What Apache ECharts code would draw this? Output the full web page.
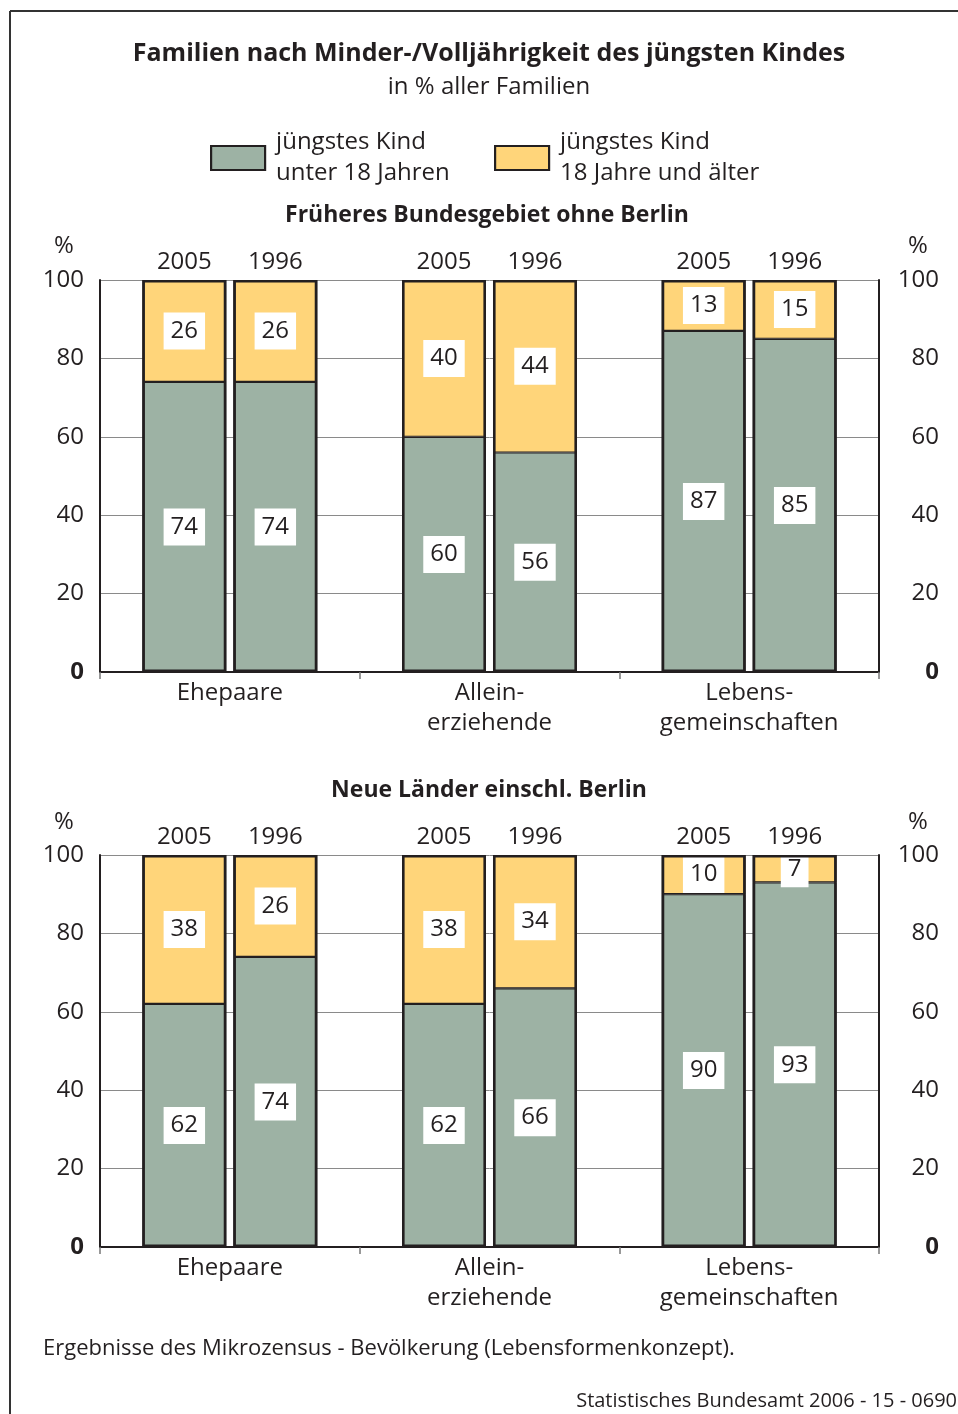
<!DOCTYPE html>
<html>
<head>
<meta charset="utf-8">
<script src="https://cdn.jsdelivr.net/npm/echarts@6/dist/echarts.min.js"></script>
<style>
html,body{margin:0;padding:0;background:#fff;}
#chart{width:958px;height:1414px;}
</style>
</head>
<body>
<div id="chart"></div>
<script>
// ---- data ----
const categories = ['Ehepaare', 'Allein-\nerziehende', 'Lebens-\ngemeinschaften'];
const years = ['2005', '1996'];
const yTicks = [0, 20, 40, 60, 80, 100];
const seriesNames = ['jüngstes Kind\nunter 18 Jahren', 'jüngstes Kind\n18 Jahre und älter'];

const west2005Under18 = [74, 60, 87];
const west2005Over18  = [26, 40, 13];
const west1996Under18 = [74, 56, 85];
const west1996Over18  = [26, 44, 15];

const east2005Under18 = [62, 62, 90];
const east2005Over18  = [38, 38, 10];
const east1996Under18 = [74, 66, 93];
const east1996Over18  = [26, 34, 7];

const mainTitle = 'Familien nach Minder-/Volljährigkeit des jüngsten Kindes';
const subTitle = 'in % aller Familien';
const panelTitles = ['Früheres Bundesgebiet ohne Berlin', 'Neue Länder einschl. Berlin'];
const footnote = 'Ergebnisse des Mikrozensus - Bevölkerung (Lebensformenkonzept).';
const source = 'Statistisches Bundesamt 2006 - 15 - 0690';

// ---- style ----
const FONT = '"Open Sans"';
const INK = '#231f20';
const GREEN = '#9db2a4';
const YELLOW = '#ffd57a';
const FS = 24;

const chart = echarts.init(document.getElementById('chart'), null, {renderer: 'canvas'});

function barSeries(name, stack, data, ai, color) {
  return {
    type: 'bar', name, stack, data,
    xAxisIndex: ai * 3, yAxisIndex: ai * 2,
    barWidth: 84, barGap: '8.33%',
    itemStyle: {color, borderColor: INK, borderWidth: 1.1},
    label: {
      show: true, position: 'inside', color: INK, fontSize: FS, fontFamily: FONT,
      backgroundColor: '#fff', padding: [6, 7, 5, 7], lineHeight: 26
    },
    emphasis: {disabled: true},
    silent: true
  };
}
function yearSeries(year, stack, ai) {
  return {
    type: 'bar', name: year, stack, data: categories.map(() => 0),
    xAxisIndex: ai * 3, yAxisIndex: ai * 2,
    barWidth: 84, barGap: '8.33%',
    itemStyle: {color: 'transparent', borderWidth: 0},
    label: {show: true, position: 'top', distance: 6, formatter: year,
            fontSize: FS, fontFamily: FONT, color: INK},
    emphasis: {disabled: true},
    silent: true
  };
}
// outline of the whole stacked column (sum of both segments), on an overlaid hidden axis
function outlineSeries(stack, a, b, ai) {
  return {
    type: 'bar', name: 'outline', stack, data: a.map((v, i) => v + b[i]),
    xAxisIndex: ai * 3 + 2, yAxisIndex: ai * 2, z: 3,
    barWidth: 84, barGap: '8.33%',
    itemStyle: {color: 'transparent', borderColor: INK, borderWidth: 2.6},
    label: {show: false},
    emphasis: {disabled: true},
    silent: true
  };
}

const panels = [
  [[west2005Under18, west2005Over18], [west1996Under18, west1996Over18]],
  [[east2005Under18, east2005Over18], [east1996Under18, east1996Over18]]
];

const series = [];
panels.forEach((panel, ai) => {
  panel.forEach((pair, yi) => {
    const stack = 'p' + ai + 'y' + yi;
    series.push(barSeries(seriesNames[0], stack, pair[0], ai, GREEN));
    series.push(barSeries(seriesNames[1], stack, pair[1], ai, YELLOW));
    series.push(yearSeries(years[yi], stack, ai));
  });
  panel.forEach((pair, yi) => {
    series.push(outlineSeries('o' + ai + 'y' + yi, pair[0], pair[1], ai));
  });
});

const gridTops = [280, 855];
const grids = gridTops.map(t => ({left: 100, top: t, width: 779, height: 392}));

const xAxes = [];
const yAxes = [];
gridTops.forEach((t, gi) => {
  xAxes.push({
    type: 'category', gridIndex: gi, data: categories, position: 'bottom', z: 1,
    axisLine: {show: true, lineStyle: {color: INK, width: 2}},
    axisTick: {show: true, length: 7, lineStyle: {color: '#777', width: 1.5}},
    axisLabel: {fontSize: FS, fontFamily: FONT, color: INK, lineHeight: 30, margin: 6, interval: 0}
  });
  xAxes.push({
    type: 'category', gridIndex: gi, data: categories, position: 'top', z: 1,
    axisLine: {show: true, lineStyle: {color: INK, width: 2}},
    axisTick: {show: false}, axisLabel: {show: false}
  });
  xAxes.push({
    type: 'category', gridIndex: gi, data: categories, show: false
  });
  const labelFmt = v => v === 0 ? '{b|0}' : String(v);
  const rich = {b: {fontWeight: 'bold', fontSize: FS, fontFamily: FONT, color: INK}};
  yAxes.push({
    type: 'value', gridIndex: gi, position: 'left', min: yTicks[0], max: yTicks[yTicks.length - 1],
    interval: yTicks[1] - yTicks[0],
    axisLine: {show: true, lineStyle: {color: INK, width: 2}},
    axisTick: {show: false},
    splitLine: {show: true, lineStyle: {color: '#8a8a8a', width: 1}},
    axisLabel: {fontSize: FS, fontFamily: FONT, color: INK, margin: 16, formatter: labelFmt, rich}
  });
  yAxes.push({
    type: 'value', gridIndex: gi, position: 'right', min: yTicks[0], max: yTicks[yTicks.length - 1],
    interval: yTicks[1] - yTicks[0],
    axisLine: {show: true, lineStyle: {color: INK, width: 2}},
    axisTick: {show: false},
    splitLine: {show: false},
    axisLabel: {fontSize: FS, fontFamily: FONT, color: INK, margin: 60, align: 'right', formatter: labelFmt, rich}
  });
});

function txt(text, x, y, size, weight, align) {
  return {
    type: 'text', x, y, silent: true,
    style: {
      text, fill: INK, font: (weight || 'normal') + ' ' + size + 'px ' + FONT,
      textAlign: align || 'center', align: align || 'center',
      textVerticalAlign: 'middle', verticalAlign: 'middle'
    }
  };
}

const legendCommon = {
  itemWidth: 54, itemHeight: 24, icon: 'rect', selectedMode: false, padding: 0, top: 127,
  itemStyle: {borderColor: INK, borderWidth: 2.2},
  textStyle: {fontSize: FS, fontFamily: FONT, color: INK, lineHeight: 31, padding: [0, 0, 0, 6]}
};

const option = {
  animation: false,
  backgroundColor: '#fff',
  textStyle: {fontFamily: FONT},
  color: [GREEN, YELLOW],
  legend: [
    Object.assign({}, legendCommon, {left: 210, data: [seriesNames[0]]}),
    Object.assign({}, legendCommon, {left: 494, data: [seriesNames[1]]})
  ],
  grid: grids,
  xAxis: xAxes,
  yAxis: yAxes,
  series,
  graphic: [
    {type: 'line', silent: true, shape: {x1: 10, y1: 11, x2: 958, y2: 11}, style: {stroke: '#333', lineWidth: 2}},
    {type: 'line', silent: true, shape: {x1: 10, y1: 11, x2: 10, y2: 1414}, style: {stroke: '#333', lineWidth: 2}},
    txt(mainTitle, 489, 54, 25, 'bold'),
    txt(subTitle, 489, 87, FS),
    txt(panelTitles[0], 487, 215, 23, 'bold'),
    txt(panelTitles[1], 489, 790, 23, 'bold'),
    txt('%', 64, 246, FS),
    txt('%', 918, 246, FS),
    txt('%', 64, 822, FS),
    txt('%', 918, 822, FS),
    txt(footnote, 43, 1349, 22, 'normal', 'left'),
    txt(source, 957, 1401, 20, 'normal', 'right')
  ]
};

chart.setOption(option);
</script>
</body>
</html>
